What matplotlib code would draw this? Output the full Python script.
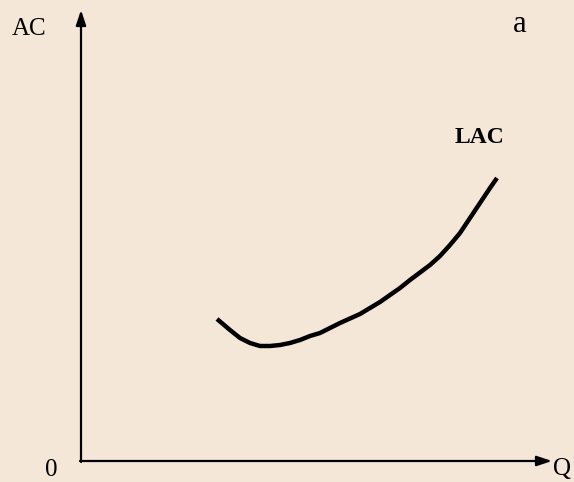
import matplotlib
matplotlib.use("Agg")
import matplotlib.pyplot as plt

# LAC curve values (Q, AC) (axis origin = 0)
lac_q = [136, 149, 159, 169, 179, 189, 199, 209, 219, 229, 239, 259, 279, 299,
         319, 329, 349, 359, 369, 379, 389, 399, 409, 416]
lac_ac = [142, 131, 123, 118, 115, 115, 116, 118, 121, 125, 128, 138, 147, 159,
          173, 181, 196, 205, 216, 228, 243, 258, 273, 283]

W, H = 574, 482
ox, oy = 81, 461  # origin in pixels

fig = plt.figure(figsize=(W / 100, H / 100), dpi=100)
fig.patch.set_facecolor("#F5E7D7")
ax = fig.add_axes([0, 0, 1, 1])
ax.set_facecolor("#F5E7D7")
ax.set_xlim(-ox, W - ox)
ax.set_ylim(-(H - oy), oy)
ax.axis("off")

serif = ["Liberation Serif", "DejaVu Serif"]

# axes arrows
arrow = dict(arrowstyle="-|>,head_length=0.9,head_width=0.3", color="black", lw=1.6,
             shrinkA=0, shrinkB=0)
ax.annotate("", xy=(0, oy - 10), xytext=(0, -1), arrowprops=arrow)
ax.annotate("", xy=(552 - ox, 0), xytext=(-1, 0), arrowprops=arrow)

# curve
ax.plot(lac_q, lac_ac, color="black", lw=3.2, solid_capstyle="butt", solid_joinstyle="round")

# labels
ax.text(12 - ox, oy - 35, "AC", fontsize=18, family=serif, ha="left", va="baseline")
ax.text(520 - ox, oy - 32, "a", fontsize=22, family=serif, ha="center", va="baseline")
ax.text(455 - ox, oy - 143, "LAC", fontsize=17, family=serif, fontweight="bold",
        ha="left", va="baseline")
ax.text(51 - ox, oy - 476, "0", fontsize=18, family=serif, ha="center", va="baseline")
ax.text(553 - ox, oy - 475, "Q", fontsize=18, family=serif, ha="left", va="baseline")

fig.savefig("out.png", dpi=100, facecolor=fig.get_facecolor())
